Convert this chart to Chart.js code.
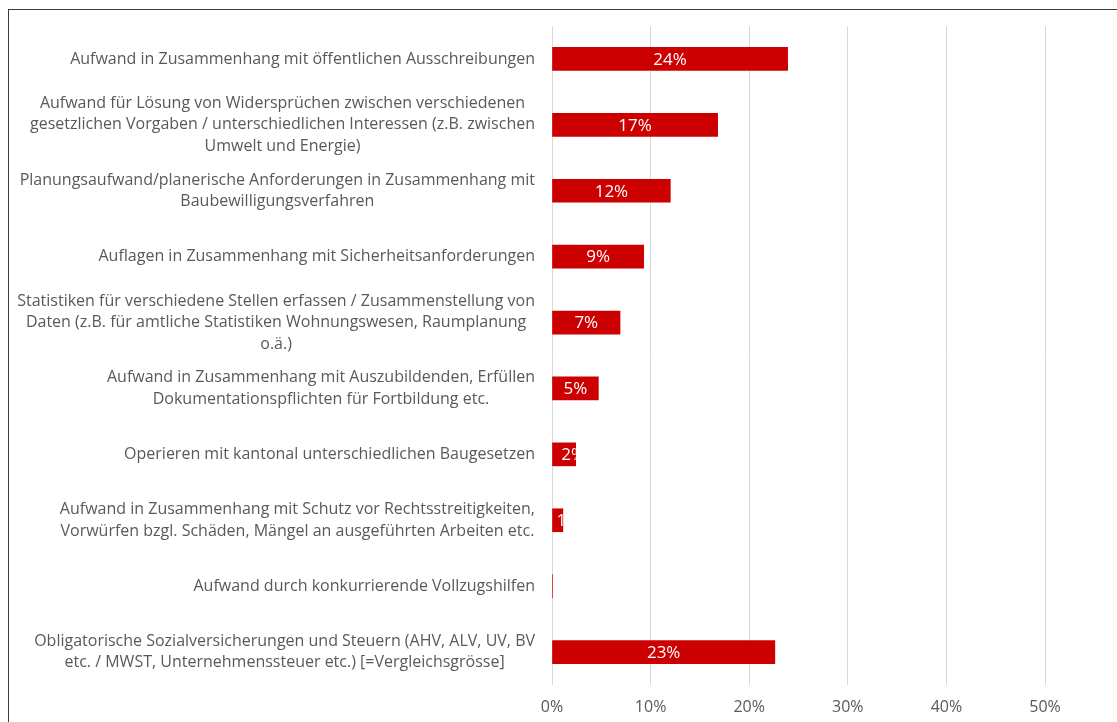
<!DOCTYPE html>
<html>
<head>
<meta charset="utf-8">
<script src="https://cdn.jsdelivr.net/npm/chart.js@4/dist/chart.umd.min.js"></script>
<style>
  html, body { margin: 0; padding: 0; background: #fff; overflow: hidden; }
  #frame { position: absolute; left: 8px; top: 9px; width: 2000px; height: 2000px; border: 1px solid #3a3a3a; }
  #wrap { position: absolute; left: 0; top: 0; width: 1117px; height: 722px; }
</style>
</head>
<body>
<div id="frame"></div>
<div id="wrap"><canvas id="barChart"></canvas></div>
<script>
// categories (each entry = lines of the label)
const categories = [
  ["Aufwand in Zusammenhang mit öffentlichen Ausschreibungen"],
  ["Aufwand für Lösung von Widersprüchen zwischen verschiedenen", "gesetzlichen Vorgaben / unterschiedlichen Interessen (z.B. zwischen", "Umwelt und Energie)"],
  ["Planungsaufwand/planerische Anforderungen in Zusammenhang mit", "Baubewilligungsverfahren"],
  ["Auflagen in Zusammenhang mit Sicherheitsanforderungen"],
  ["Statistiken für verschiedene Stellen erfassen / Zusammenstellung von", "Daten (z.B. für amtliche Statistiken Wohnungswesen, Raumplanung", "o.ä.)"],
  ["Aufwand in Zusammenhang mit Auszubildenden, Erfüllen", "Dokumentationspflichten für Fortbildung etc."],
  ["Operieren mit kantonal unterschiedlichen Baugesetzen"],
  ["Aufwand in Zusammenhang mit Schutz vor Rechtsstreitigkeiten,", "Vorwürfen bzgl. Schäden, Mängel an ausgeführten Arbeiten etc."],
  ["Aufwand durch konkurrierende Vollzugshilfen"],
  ["Obligatorische Sozialversicherungen und Steuern (AHV, ALV, UV, BV", "etc. / MWST, Unternehmenssteuer etc.) [=Vergleichsgrösse]"]
]
const shares = [23.9, 16.8, 12.0, 9.3, 6.9, 4.7, 2.4, 1.1, 0.05, 22.6]
const tickValues = [0, 10, 20, 30, 40, 50]

const FONT = "'Open Sans', sans-serif"
const TEXT_GREY = "#595959"

// category labels: lines centered within their block, block right-aligned
const categoryLabels = {
  id: "categoryLabels",
  afterDraw(chart) {
    const ctx = chart.ctx
    const y = chart.scales.y
    const right = chart.chartArea.left - 17
    const lh = 21.5
    ctx.save()
    ctx.font = "16px " + FONT
    ctx.fillStyle = TEXT_GREY
    ctx.textAlign = "center"
    ctx.textBaseline = "middle"
    categories.forEach((lines, i) => {
      const w = Math.max(...lines.map((l) => ctx.measureText(l).width))
      const cy = y.getPixelForValue(i)
      const top = cy - (lines.length - 1) * lh / 2
      lines.forEach((l, k) => ctx.fillText(l, right - w / 2, top + k * lh))
    })
    ctx.restore()
  },
}

// value labels inside the bars, clipped to the bar
const barValues = {
  id: "barValues",
  afterDatasetsDraw(chart) {
    const ctx = chart.ctx
    const meta = chart.getDatasetMeta(0)
    ctx.save()
    ctx.font = "17px " + FONT
    ctx.fillStyle = "#ffffff"
    ctx.textBaseline = "middle"
    meta.data.forEach((bar, i) => {
      const txt = Math.round(shares[i]) + "%"
      const x0 = bar.base
      const x1 = bar.x
      const h = bar.height
      const bw = x1 - x0
      const tw = ctx.measureText(txt).width
      ctx.save()
      ctx.beginPath()
      ctx.rect(x0, bar.y - h / 2, bw, h)
      ctx.clip()
      if (tw < bw) {
        ctx.textAlign = "center"
        ctx.fillText(txt, (x0 + x1) / 2, bar.y + 1)
      } else {
        ctx.textAlign = "left"
        ctx.fillText(txt, x0 + bw * 0.38, bar.y + 1)
      }
      ctx.restore()
    })
    ctx.restore()
  },
}

const barCtx = document.getElementById("barChart").getContext("2d")
new Chart(barCtx, {
  type: "bar",
  data: {
    labels: categories.map((c) => c.join(" ")),
    datasets: [
      {
        data: shares,
        backgroundColor: "#cc0000",
        borderWidth: 0,
        barThickness: 23,
      },
    ],
  },
  plugins: [categoryLabels, barValues],
  options: {
    indexAxis: "y",
    responsive: true,
    maintainAspectRatio: false,
    animation: false,
    layout: { padding: { left: 552, right: 72, top: 26, bottom: 0 } },
    plugins: {
      legend: { display: false },
      tooltip: { enabled: false },
    },
    scales: {
      x: {
        min: 0,
        max: 50,
        afterBuildTicks: (axis) => { axis.ticks = tickValues.map((v) => ({ value: v })) },
        afterFit: (axis) => { axis.height = 37 },
        grid: { color: "#d9d9d9", lineWidth: 1, drawTicks: false },
        border: { display: false },
        ticks: {
          padding: 13,
          color: TEXT_GREY,
          font: { family: FONT, size: 16 },
          callback: (v) => v + "%",
        },
      },
      y: {
        grid: { display: false },
        border: { display: false },
        ticks: { display: false },
        afterFit: (axis) => { axis.width = 0 },
      },
    },
  },
})
</script>
</body>
</html>
